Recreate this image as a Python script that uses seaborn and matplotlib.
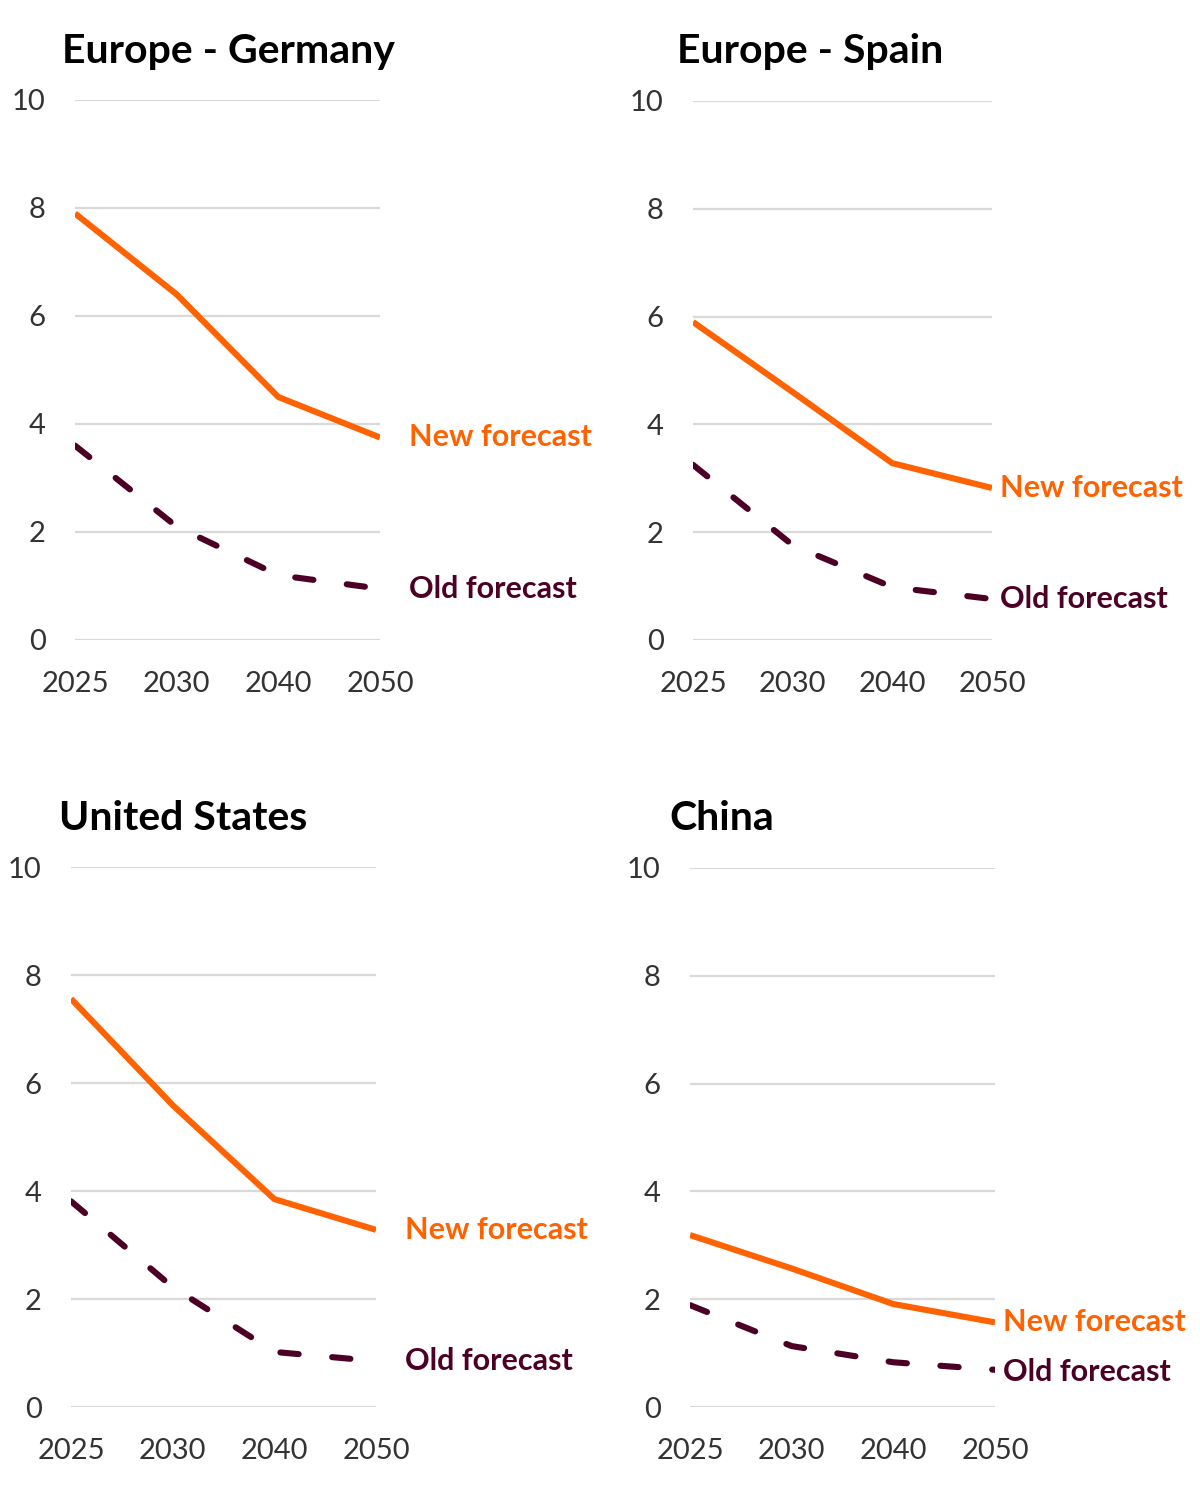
import matplotlib
matplotlib.use("Agg")
import matplotlib.pyplot as plt
import seaborn as sns
import pandas as pd

years = ["2025", "2030", "2040", "2050"]
titles = ["Europe - Germany", "Europe - Spain", "United States", "China"]
new_germany = [7.9, 6.4, 4.5, 3.75]
old_germany = [3.6, 2.1, 1.2, 0.95]
new_spain = [5.9, 4.6, 3.28, 2.82]
old_spain = [3.25, 1.76, 0.98, 0.76]
new_us = [7.56, 5.59, 3.85, 3.28]
old_us = [3.81, 2.22, 1.02, 0.85]
new_china = [3.19, 2.57, 1.91, 1.57]
old_china = [1.89, 1.13, 0.83, 0.69]
series_names = ["New forecast", "Old forecast"]
y_ticks = [0, 2, 4, 6, 8, 10]

ORANGE = "#FF6200"
MAROON = "#4D0025"

sns.set_theme(style="white")
plt.rcParams["font.family"] = ["Lato", "DejaVu Sans"]
plt.rcParams["lines.dash_capstyle"] = "round"
plt.rcParams["lines.solid_capstyle"] = "butt"

fig = plt.figure(figsize=(12, 14.92), dpi=100)
W, H = 1200, 1492
# (left px, right px, top px, bottom px, title offset px, label offset pt)
layout = [
    (75, 380, 100, 640, -13, 21),
    (693, 992, 101, 640, -16, 6),
    (71, 376, 867, 1407, -12, 21),
    (690, 995, 868, 1407, -21, 6),
]
data = [(new_germany, old_germany), (new_spain, old_spain),
        (new_us, old_us), (new_china, old_china)]
old_label_dy = [0, 0, 0, -1.5]

for i, (title, (nv, ov), lay) in enumerate(zip(titles, data, layout)):
    l, r, t, b, toff, loff = lay
    ax = fig.add_axes([l / W, (H - b) / H, (r - l) / W, (b - t) / H])
    df = pd.DataFrame({
        "year": years * 2,
        "value": list(nv) + list(ov),
        "series": [series_names[0]] * 4 + [series_names[1]] * 4,
    })
    sns.lineplot(data=df, x="year", y="value", hue="series", style="series",
                 palette={series_names[0]: ORANGE, series_names[1]: MAROON},
                 dashes={series_names[0]: "", series_names[1]: (3.0, 5.5)},
                 linewidth=4.4, ax=ax, legend=False, zorder=3)
    ax.set_xlim(0, 3)
    ax.set_ylim(0, 10)
    ax.set_yticks(y_ticks)
    ax.set_yticklabels([str(v) for v in y_ticks])
    ax.grid(axis="y", color="#D9D9D9", linewidth=1.6, zorder=0)
    ax.grid(axis="x", visible=False)
    for s in ax.spines.values():
        s.set_visible(False)
    ax.tick_params(axis="both", length=0, labelsize=21, labelcolor="#333333")
    ax.tick_params(axis="y", pad=21)
    ax.tick_params(axis="x", pad=22)
    ax.set_xlabel("")
    ax.set_ylabel("")
    ax.set_title(title, loc="left", x=toff / (r - l), pad=27,
                 fontsize=29.5, fontweight="bold", color="#000000")
    ax.annotate(series_names[0], xy=(3, nv[-1]), xytext=(loff, 0),
                textcoords="offset points", va="center", ha="left",
                fontsize=22, fontweight="bold", color=ORANGE,
                annotation_clip=False)
    ax.annotate(series_names[1], xy=(3, ov[-1]), xytext=(loff, old_label_dy[i]),
                textcoords="offset points", va="center", ha="left",
                fontsize=22, fontweight="bold", color=MAROON,
                annotation_clip=False)

fig.savefig("out.png", dpi=100, facecolor="white")
